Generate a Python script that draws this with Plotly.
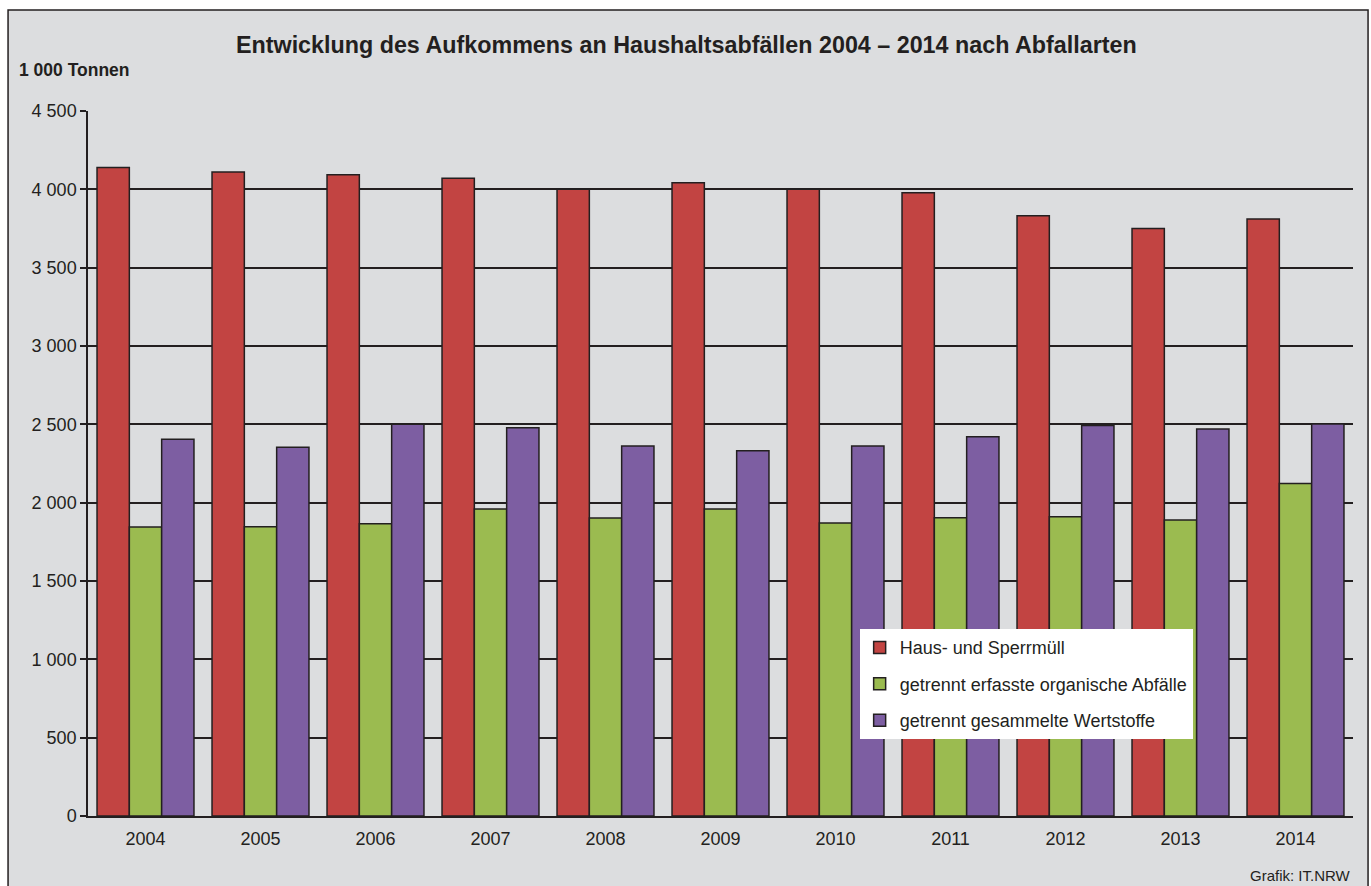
import plotly.graph_objects as go

# ── data (1 000 t) ────────────────────────────────────────────────────────────
years     = ["2004", "2005", "2006", "2007", "2008", "2009",
             "2010", "2011", "2012", "2013", "2014"]
haus      = [4140, 4110, 4093, 4070, 4001, 4042, 4000, 3978, 3831, 3750, 3810]
organisch = [1844, 1846, 1865, 1959, 1902, 1960, 1870, 1904, 1910, 1889, 2123]
wertstoff = [2404, 2353, 2500, 2478, 2362, 2332, 2362, 2420, 2492, 2471, 2502]

series = [
    ("Haus- und Sperrmüll",                   haus,      "#C24442"),
    ("getrennt erfasste organische Abfälle",  organisch, "#9BBB50"),
    ("getrennt gesammelte Wertstoffe",        wertstoff, "#7D5EA2"),
]

FONT = "Liberation Sans, Arial, sans-serif"
INK  = "#231F20"

fig = go.Figure()
for i, (name, vals, col) in enumerate(series):
    fig.add_trace(go.Bar(
        x=years, y=vals, name=name, legendgroup=f"g{i}",
        marker=dict(color=col, line=dict(color=INK, width=1.5)),
    ))

# grey frame behind everything
fig.add_shape(type="rect", xref="paper", yref="paper",
              x0=-0.0632, x1=1.0119, y0=-0.12, y1=1.1433,
              fillcolor="#DCDDDF", line=dict(color=INK, width=1.5),
              layer="below")

fig.add_annotation(text="<b>Entwicklung des Aufkommens an Haushaltsabfällen 2004 – 2014 nach Abfallarten</b>",
                   xref="paper", yref="paper", x=0.4735, y=1.0936, showarrow=False,
                   xanchor="center", yanchor="middle",
                   font=dict(size=23.3, color=INK, family=FONT))
fig.add_annotation(text="<b>1 000 Tonnen</b>",
                   xref="paper", yref="paper", x=-0.0563, y=1.058, showarrow=False,
                   xanchor="left", yanchor="middle",
                   font=dict(size=17.5, color=INK, family=FONT))
fig.add_annotation(text="Grafik: IT.NRW",
                   xref="paper", yref="paper", x=1.0, y=-0.084, showarrow=False,
                   xanchor="right", yanchor="middle",
                   font=dict(size=15, color=INK, family=FONT))

fig.update_layout(
    width=1371, height=886,
    margin=dict(l=88, r=18, t=111, b=70),
    paper_bgcolor="white", plot_bgcolor="white",
    barmode="group", bargap=0.157, bargroupgap=0,
    separators=", ",
    font=dict(family=FONT, size=18, color=INK),
    legend=dict(x=0.61, y=0.265, xanchor="left", yanchor="top",
                bgcolor="white", borderwidth=0,
                font=dict(size=18, color=INK, family=FONT),
                tracegroupgap=10),
    xaxis=dict(showgrid=False, showline=True, linecolor=INK, linewidth=1.5,
               ticks="", ticklabelstandoff=6, tickfont=dict(size=18, color=INK)),
    yaxis=dict(range=[0, 4500], dtick=500, tickformat=",d",
               showgrid=True, gridcolor=INK, gridwidth=1.5,
               showline=True, linecolor=INK, linewidth=1.5,
               ticks="outside", ticklen=6, tickcolor=INK, tickwidth=1.5,
               tickfont=dict(size=18, color=INK), zeroline=False),
)

fig.write_html("out.html", config={"displayModeBar": False},
               post_script="document.body.style.margin='0';")
